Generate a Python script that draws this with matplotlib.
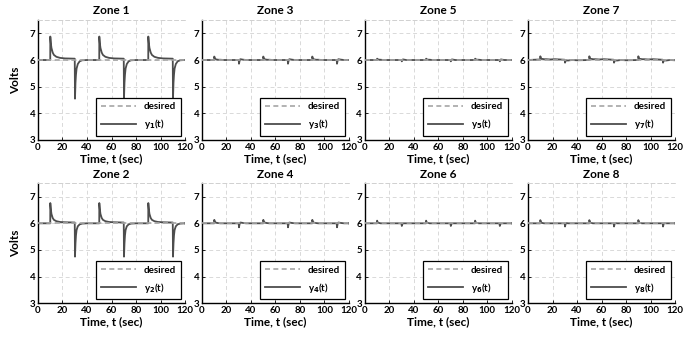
import matplotlib.pyplot as plt

plt.rcParams["font.family"] = ["Lato", "DejaVu Sans"]
plt.rcParams["font.weight"] = "bold"

# step-change instants (sec)
up_times = [10, 50, 90]
down_times = [30, 70, 110]

# shape of a response after a step (sec after the step)
up_offsets = [0, 0.05, 0.5, 1, 2, 3, 5, 8, 12, 19.9]
down_offsets = [0, 0.2, 0.6, 1, 1.5, 2.5, 4, 6, 10, 19.9]

# zone responses, volts
zone1_up = [6.0, 6.88, 6.62, 6.45, 6.28, 6.19, 6.12, 6.08, 6.06, 6.05]
zone1_down = [6.05, 4.55, 5.15, 5.45, 5.68, 5.85, 5.95, 5.99, 6.0, 6.0]
zone2_up = [6.0, 6.76, 6.52, 6.35, 6.2, 6.13, 6.08, 6.05, 6.04, 6.03]
zone2_down = [6.03, 4.75, 5.25, 5.55, 5.75, 5.89, 5.96, 5.99, 6.0, 6.0]
zone3_up = [6.0, 6.13, 6.06, 6.03, 6.02, 6.01, 6.01, 6.0, 6.0, 6.0]
zone3_down = [6.0, 5.86, 5.95, 6.02, 6.03, 6.02, 6.01, 6.0, 6.0, 6.0]
zone4_up = [6.0, 6.13, 6.05, 6.03, 6.02, 6.01, 6.0, 6.0, 6.0, 6.0]
zone4_down = [6.0, 5.85, 5.95, 6.02, 6.03, 6.02, 6.01, 6.0, 6.0, 6.0]
zone5_up = [6.0, 6.05, 6.03, 6.02, 6.01, 6.01, 6.0, 6.0, 6.0, 6.0]
zone5_down = [6.0, 5.95, 5.99, 6.02, 6.02, 6.01, 6.0, 6.0, 6.0, 6.0]
zone6_up = [6.0, 6.1, 6.04, 6.02, 6.01, 6.0, 6.0, 6.0, 6.0, 6.0]
zone6_down = [6.0, 5.9, 5.97, 6.0, 6.0, 6.0, 6.0, 6.0, 6.0, 6.0]
zone7_up = [6.02, 6.14, 6.06, 6.04, 6.04, 6.03, 6.03, 6.02, 6.03, 6.01]
zone7_down = [5.99, 5.9, 5.96, 5.98, 5.99, 5.98, 5.99, 6.0, 5.99, 6.0]
zone8_up = [6.0, 6.12, 6.04, 6.02, 6.01, 6.0, 6.0, 6.0, 6.0, 6.0]
zone8_down = [6.0, 5.88, 5.96, 6.0, 6.01, 6.0, 6.0, 6.0, 6.0, 6.0]

desired = 6.0
zones = {
    1: (zone1_up, zone1_down), 2: (zone2_up, zone2_down),
    3: (zone3_up, zone3_down), 4: (zone4_up, zone4_down),
    5: (zone5_up, zone5_down), 6: (zone6_up, zone6_down),
    7: (zone7_up, zone7_down), 8: (zone8_up, zone8_down),
}


def build_trace(up_vals, down_vals):
    t = [0.0]
    y = [desired]
    events = sorted([(s, up_offsets, up_vals) for s in up_times]
                    + [(s, down_offsets, down_vals) for s in down_times])
    for start, offs, vals in events:
        for o, v in zip(offs, vals):
            t.append(start + o)
            y.append(v)
    t.append(120.0)
    y.append(y[-1])
    return t, y


fig = plt.figure(figsize=(6.87, 3.37), dpi=100)
lefts = [0.0553, 0.294, 0.531, 0.7686]
bottoms = [0.5846, 0.100]
w, h = 0.214, 0.356

for z in range(1, 9):
    col = (z - 1) // 2
    row = (z - 1) % 2
    ax = fig.add_axes([lefts[col], bottoms[row], w, h])
    t, y = build_trace(*zones[z])
    ax.plot([0, 120], [desired, desired], color="#a6a6a6", lw=1.2,
            dashes=(3, 2), label="desired", zorder=3)
    ax.plot(t, y, "-", color="#4d4d4d", lw=1.3, label=f"y$_{z}$(t)", zorder=2)
    ax.set_xlim(0, 120)
    ax.set_ylim(3, 7.5)
    ax.set_xticks(range(0, 121, 20))
    ax.set_yticks([3, 4, 5, 6, 7])
    ax.grid(True, ls=(0, (4, 3)), color="#d9d9d9", lw=0.7)
    ax.spines["top"].set_linestyle((0, (4, 3)))
    ax.spines["top"].set_color("#d0d0d0")
    ax.spines["top"].set_linewidth(0.7)
    ax.spines["right"].set_visible(False)
    ax.spines["left"].set_linewidth(1.0)
    ax.spines["bottom"].set_linewidth(1.0)
    ax.tick_params(labelsize=7, length=2, width=0.6, pad=2, direction="in")
    for lab in ax.get_xticklabels() + ax.get_yticklabels():
        lab.set_fontweight("bold")
    ax.set_title(f"Zone {z}", fontsize=8.5, fontweight="bold", pad=4)
    ax.set_xlabel("Time, t (sec)", fontsize=8.5, fontweight="bold", labelpad=1)
    if col == 0:
        ax.set_ylabel("Volts", fontsize=8.5, fontweight="bold", labelpad=6)
    leg = ax.legend(loc="lower right", fontsize=7, frameon=True, fancybox=False,
                    framealpha=1, edgecolor="black", handlelength=3.6,
                    borderpad=0.5, labelspacing=0.6, borderaxespad=0.4)
    leg.get_frame().set_linewidth(0.9)
    for txt in leg.get_texts():
        txt.set_fontweight("bold")

fig.savefig("out.png", dpi=100)
